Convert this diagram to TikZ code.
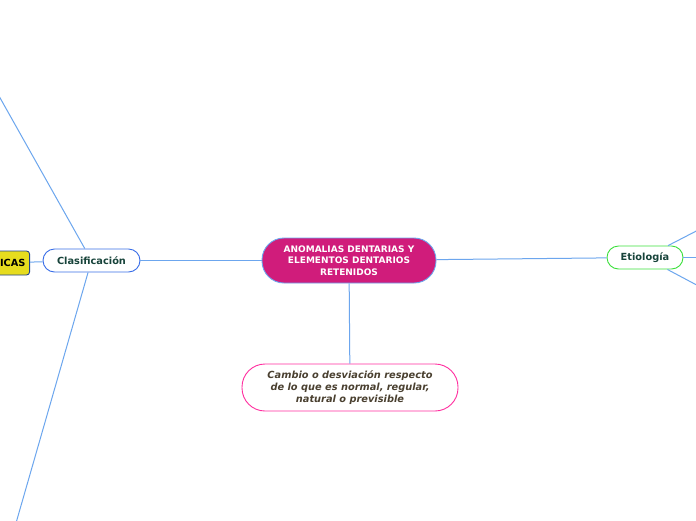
\documentclass[tikz,border=0pt]{standalone}
\usepackage{fontspec}
\setmainfont{DejaVu Sans}
\definecolor{centro}{HTML}{D01C7B}
\definecolor{enlace}{HTML}{6CA6EE}
\definecolor{azul}{HTML}{3B6FE8}
\definecolor{verde}{HTML}{3CE03C}
\definecolor{rosa}{HTML}{FF2E9F}
\definecolor{amarillo}{HTML}{E6DC1E}
\definecolor{tverde}{HTML}{17433A}
\definecolor{tmarron}{HTML}{4A4030}
\begin{document}
\begin{tikzpicture}[x=1pt,y=-1pt,
    link/.style={enlace, line width=1pt},
    tema/.style={draw, fill=white, line width=0.9pt, rounded corners=11.5pt, minimum height=23pt,
                 text=tverde, font=\fontsize{9.8}{12}\selectfont\bfseries}]
    \clip (0,0) rectangle (696,520);
    \fill[white] (0,0) rectangle (696,520);
    \node[draw=enlace, fill=centro, line width=0.9pt, rounded corners=22pt, minimum width=174pt, minimum height=45pt,
          text=white, align=center, font=\fontsize{9}{11.5}\selectfont\bfseries] (cen) at (349,260.5)
          {ANOMALIAS DENTARIAS Y\\ELEMENTOS DENTARIOS\\RETENIDOS};
    \node[tema, draw=azul, minimum width=97pt] (clas) at (91.5,260.5) {Clasificación};
    \node[tema, draw=verde, minimum width=76pt] (eti) at (645,257.5) {Etiología};
    \node[draw=rosa, fill=white, line width=0.9pt, rounded corners=23pt, minimum width=216pt, minimum height=47pt,
          text=tmarron, align=center, font=\fontsize{9.8}{12}\selectfont\bfseries\itshape] (def) at (350,387.5)
          {Cambio o desviación respecto\\de lo que es normal, regular,\\natural o previsible};
    \node[draw=azul!60!black, fill=amarillo, line width=0.9pt, rounded corners=3pt, minimum height=24pt,
          text width=60pt, align=right, inner xsep=4pt, anchor=east,
          font=\fontsize{9.8}{12}\selectfont\bfseries] (car) at (30,263) {ICAS};
    % ramas que salen del cuadro
    \coordinate (tl) at (-10,80);
    \coordinate (bl) at (14,530);
    \coordinate (e1) at (706,226);
    \coordinate (e2) at (706,257.5);
    \coordinate (e3) at (706,290);
    \draw[link] (cen) -- (clas);
    \draw[link] (cen) -- (eti);
    \draw[link] (cen) -- (def);
    \draw[link] (clas) -- (car);
    \draw[link] (clas) -- (tl);
    \draw[link] (clas) -- (bl);
    \draw[link] (eti) -- (e1);
    \draw[link] (eti) -- (e2);
    \draw[link] (eti) -- (e3);
\end{tikzpicture}
\end{document}
